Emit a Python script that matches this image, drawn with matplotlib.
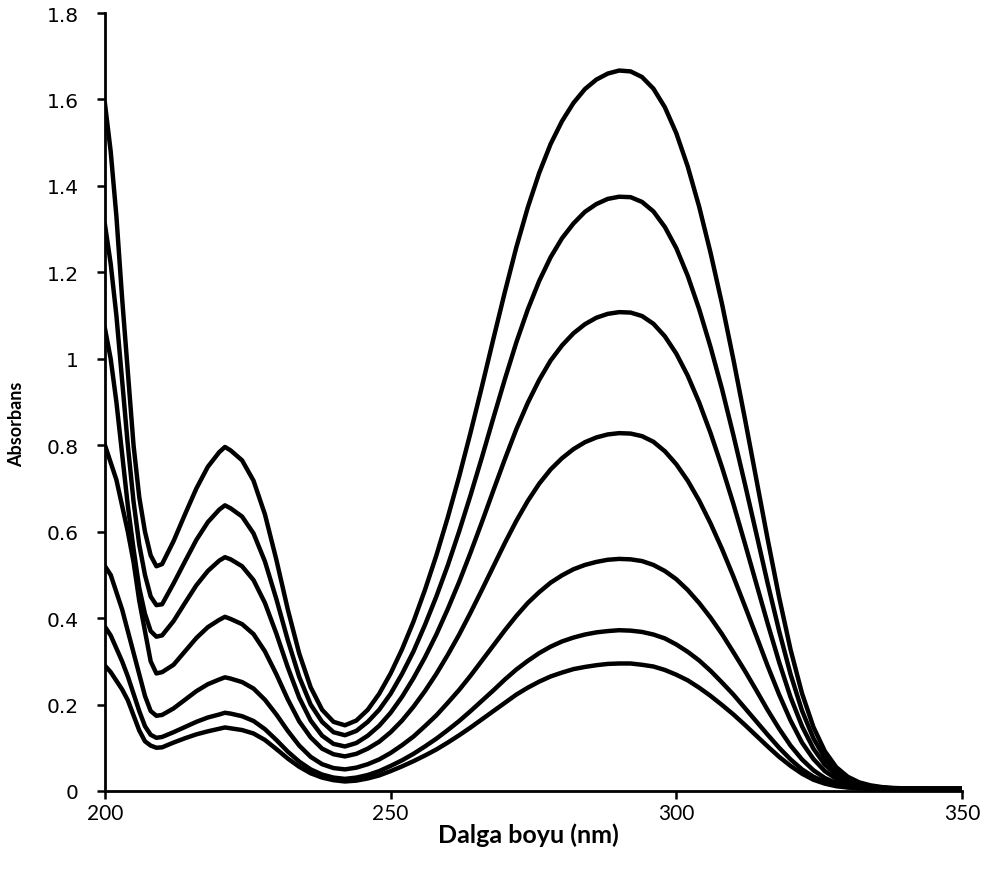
import matplotlib
matplotlib.use("Agg")
import matplotlib.pyplot as plt

# wavelengths (nm)
wl = [200, 201, 202, 203, 204, 205, 206, 207, 208, 209, 210,
      212, 214, 216, 218, 220, 221, 222, 224, 226, 228, 230, 232, 234, 236, 238, 240,
      242, 244, 246, 248, 250, 252, 254, 256, 258, 260, 262, 264, 266, 268, 270,
      272, 274, 276, 278, 280, 282, 284, 286, 288, 290, 292, 294, 296, 298, 300,
      302, 304, 306, 308, 310, 312, 314, 316, 318, 320, 322, 324, 326, 328, 330,
      332, 334, 336, 338, 340, 345, 350]

# absorbance spectra, highest to lowest
a1 = [1.59, 1.48, 1.33, 1.14, 0.97, 0.80, 0.68, 0.60, 0.545, 0.52, 0.525,
      0.578, 0.640, 0.700, 0.750, 0.784, 0.796, 0.788, 0.765, 0.718, 0.640, 0.535, 0.420, 0.318, 0.240, 0.188, 0.160,
      0.152, 0.163, 0.188, 0.225, 0.272, 0.328, 0.392, 0.465, 0.545, 0.633, 0.728, 0.830, 0.937, 1.047, 1.155,
      1.258, 1.350, 1.430, 1.497, 1.550, 1.592, 1.624, 1.646, 1.660, 1.667, 1.665, 1.652, 1.625, 1.582, 1.522,
      1.445, 1.352, 1.245, 1.127, 0.998, 0.862, 0.722, 0.582, 0.448, 0.327, 0.226, 0.148, 0.092, 0.055, 0.033,
      0.020, 0.013, 0.009, 0.007, 0.006, 0.005, 0.005]
a2 = [1.31, 1.22, 1.10, 0.95, 0.80, 0.67, 0.57, 0.50, 0.45, 0.43, 0.432,
      0.480, 0.531, 0.581, 0.622, 0.651, 0.661, 0.654, 0.635, 0.596, 0.531, 0.444, 0.349, 0.264, 0.200, 0.160, 0.136,
      0.129, 0.139, 0.160, 0.188, 0.225, 0.271, 0.323, 0.384, 0.450, 0.522, 0.601, 0.685, 0.773, 0.864, 0.953,
      1.038, 1.114, 1.180, 1.235, 1.279, 1.313, 1.340, 1.358, 1.370, 1.375, 1.374, 1.363, 1.341, 1.305, 1.256,
      1.192, 1.115, 1.027, 0.930, 0.823, 0.711, 0.596, 0.480, 0.370, 0.270, 0.186, 0.122, 0.076, 0.045, 0.027,
      0.017, 0.011, 0.008, 0.006, 0.006, 0.005, 0.005]
a3 = [1.07, 1.00, 0.90, 0.78, 0.66, 0.56, 0.47, 0.41, 0.37, 0.357, 0.36,
      0.393, 0.435, 0.476, 0.509, 0.533, 0.541, 0.536, 0.520, 0.488, 0.435, 0.364, 0.286, 0.216, 0.163, 0.128, 0.109,
      0.103, 0.111, 0.128, 0.151, 0.181, 0.218, 0.261, 0.309, 0.362, 0.421, 0.484, 0.552, 0.623, 0.696, 0.768,
      0.837, 0.898, 0.951, 0.996, 1.031, 1.059, 1.080, 1.095, 1.104, 1.108, 1.107, 1.099, 1.081, 1.052, 1.012,
      0.961, 0.899, 0.828, 0.749, 0.664, 0.573, 0.480, 0.387, 0.298, 0.217, 0.150, 0.098, 0.061, 0.037, 0.022,
      0.014, 0.009, 0.007, 0.006, 0.005, 0.005, 0.005]
a4 = [0.80, 0.76, 0.72, 0.66, 0.60, 0.53, 0.44, 0.37, 0.30, 0.272, 0.275,
      0.292, 0.323, 0.354, 0.379, 0.396, 0.403, 0.398, 0.386, 0.363, 0.323, 0.270, 0.212, 0.161, 0.124, 0.098, 0.085,
      0.080, 0.086, 0.098, 0.114, 0.136, 0.163, 0.195, 0.231, 0.271, 0.315, 0.362, 0.413, 0.466, 0.520, 0.574,
      0.625, 0.671, 0.711, 0.744, 0.770, 0.791, 0.807, 0.818, 0.825, 0.828, 0.827, 0.821, 0.808, 0.786, 0.756,
      0.718, 0.672, 0.619, 0.560, 0.496, 0.428, 0.359, 0.289, 0.223, 0.163, 0.112, 0.074, 0.046, 0.028, 0.017,
      0.011, 0.008, 0.006, 0.005, 0.005, 0.005, 0.005]
a5 = [0.52, 0.50, 0.46, 0.42, 0.37, 0.32, 0.27, 0.22, 0.185, 0.174, 0.176,
      0.191, 0.211, 0.231, 0.247, 0.258, 0.263, 0.260, 0.252, 0.237, 0.211, 0.177, 0.139, 0.105, 0.079, 0.062, 0.053,
      0.050, 0.054, 0.062, 0.073, 0.088, 0.106, 0.126, 0.150, 0.175, 0.204, 0.234, 0.267, 0.302, 0.337, 0.372,
      0.405, 0.435, 0.460, 0.482, 0.499, 0.513, 0.523, 0.530, 0.535, 0.537, 0.536, 0.532, 0.523, 0.509, 0.490,
      0.465, 0.435, 0.401, 0.363, 0.321, 0.278, 0.233, 0.187, 0.144, 0.105, 0.073, 0.048, 0.030, 0.018, 0.011,
      0.008, 0.006, 0.005, 0.005, 0.005, 0.005, 0.005]
a6 = [0.38, 0.36, 0.33, 0.30, 0.265, 0.225, 0.185, 0.15, 0.13, 0.123, 0.125,
      0.136, 0.148, 0.160, 0.170, 0.177, 0.181, 0.179, 0.173, 0.162, 0.143, 0.118, 0.091, 0.068, 0.050, 0.038, 0.031,
      0.028, 0.031, 0.037, 0.046, 0.058, 0.071, 0.086, 0.103, 0.121, 0.141, 0.162, 0.185, 0.209, 0.233, 0.258,
      0.281, 0.301, 0.319, 0.334, 0.346, 0.355, 0.362, 0.367, 0.370, 0.372, 0.371, 0.368, 0.362, 0.353, 0.339,
      0.322, 0.302, 0.278, 0.251, 0.223, 0.192, 0.161, 0.130, 0.100, 0.073, 0.050, 0.033, 0.021, 0.013, 0.009,
      0.007, 0.006, 0.005, 0.005, 0.005, 0.005, 0.005]
a7 = [0.29, 0.275, 0.255, 0.235, 0.21, 0.175, 0.14, 0.115, 0.105, 0.10, 0.101,
      0.112, 0.122, 0.131, 0.138, 0.144, 0.147, 0.145, 0.141, 0.133, 0.118, 0.097, 0.075, 0.056, 0.041, 0.031, 0.025,
      0.022, 0.024, 0.029, 0.036, 0.046, 0.057, 0.069, 0.082, 0.096, 0.112, 0.129, 0.147, 0.166, 0.185, 0.204,
      0.223, 0.239, 0.253, 0.265, 0.274, 0.282, 0.287, 0.291, 0.294, 0.295, 0.295, 0.292, 0.288, 0.280, 0.269,
      0.256, 0.239, 0.220, 0.199, 0.177, 0.153, 0.128, 0.103, 0.079, 0.058, 0.040, 0.026, 0.017, 0.011, 0.008,
      0.006, 0.005, 0.005, 0.005, 0.005, 0.005, 0.005]
spectra = [a1, a2, a3, a4, a5, a6, a7]

xticks = [200, 250, 300, 350]
yticks = [0, 0.2, 0.4, 0.6, 0.8, 1.0, 1.2, 1.4, 1.6, 1.8]
ylabels = ["0", "0.2", "0.4", "0.6", "0.8", "1", "1.2", "1.4", "1.6", "1.8"]

fig = plt.figure(figsize=(9.95, 8.79), dpi=100)
ax = fig.add_axes([0.1055, 0.099, 0.8613, 0.885])

for a in spectra:
    ax.plot(wl, a, color="black", linewidth=3.2, solid_joinstyle="round")

ax.set_xlim(200, 350)
ax.set_ylim(0, 1.8)
ax.set_xticks(xticks)
ax.set_xticklabels([str(t) for t in xticks], fontsize=15, family="Lato")
ax.set_yticks(yticks)
ax.set_yticklabels(ylabels, fontsize=14.5, family="DejaVu Sans")
ax.tick_params(direction="out", length=6, width=1.8)
ax.tick_params(axis="y", pad=13)
ax.tick_params(axis="x", pad=3)

for s in ["top", "right"]:
    ax.spines[s].set_visible(False)
for s in ["left", "bottom"]:
    ax.spines[s].set_linewidth(2)

ax.set_xlabel("Dalga boyu (nm)", fontsize=18, fontweight="bold", family="Lato")
ax.xaxis.set_label_coords(0.494, -0.041)
ax.set_ylabel("Absorbans", fontsize=13, fontweight="bold", family="Lato")
ax.yaxis.set_label_coords(-0.093, 0.472)

fig.savefig("out.png", dpi=100)
